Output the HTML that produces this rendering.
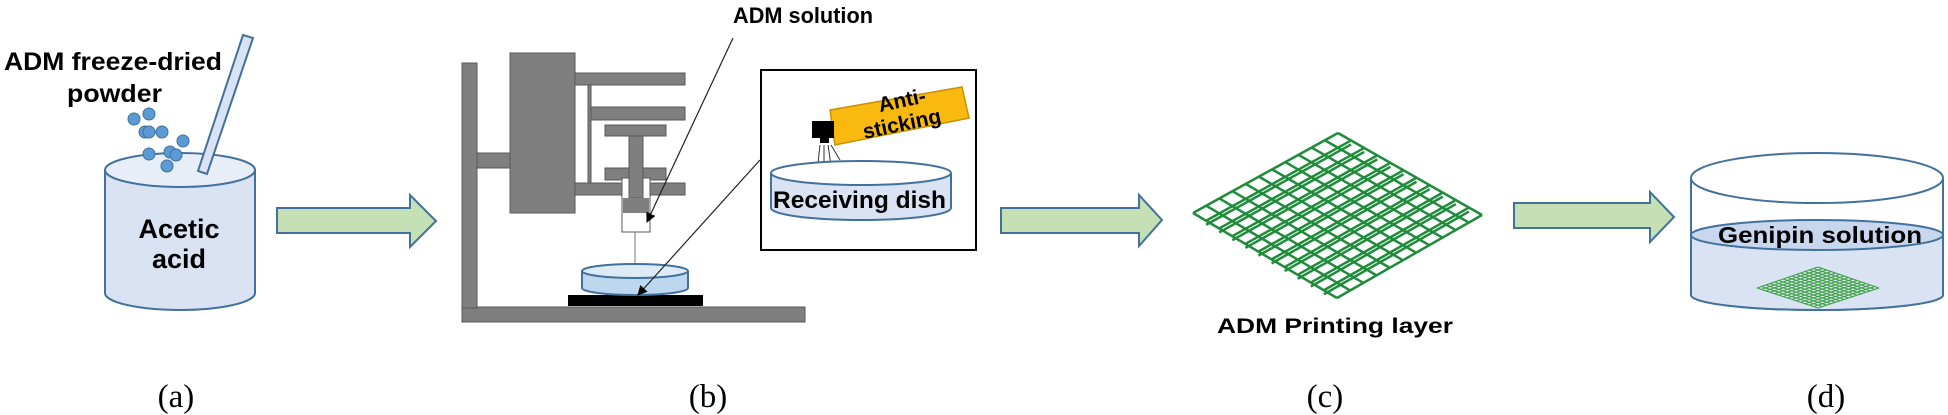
<!DOCTYPE html>
<html><head><meta charset="utf-8"><style>
html,body{margin:0;padding:0;background:#fff;width:1948px;height:415px;overflow:hidden}
svg{display:block}
.b{font-family:"Liberation Sans",sans-serif;font-weight:bold;fill:#000}
.s{font-family:"Liberation Serif",serif;font-size:33px;fill:#000}
</style></head><body>
<svg id="sv" width="1948" height="415" viewBox="0 0 1948 415" xmlns="http://www.w3.org/2000/svg">
<defs>
<marker id="ah" markerWidth="10" markerHeight="10" refX="9" refY="5" orient="auto" markerUnits="userSpaceOnUse"><path d="M0,0 L10,5 L0,10 z" fill="#000"/></marker>
</defs>
<!-- (a) beaker -->
<path d="M105,170 L105,293 A75,17 0 0 0 255,293 L255,170" fill="#dae3f3" stroke="#41719c" stroke-width="2"/>
<ellipse cx="180" cy="170" rx="75" ry="17" fill="#e8eef8" stroke="#41719c" stroke-width="2"/>
<polygon points="243,35 253,38 207,174 198,171" fill="#dae3f3" stroke="#41719c" stroke-width="2"/>
<g fill="#5b9bd5" stroke="#41719c" stroke-width="1">
<circle cx="134" cy="119" r="6"/><circle cx="149" cy="114" r="6"/><circle cx="145" cy="132" r="6"/><circle cx="149" cy="132" r="6"/><circle cx="162" cy="132" r="6"/><circle cx="183" cy="141" r="6"/><circle cx="149" cy="154" r="6"/><circle cx="170" cy="152" r="6"/><circle cx="176" cy="155" r="6"/><circle cx="167" cy="166" r="6"/>
</g>
<text class="b" x="4" y="70" font-size="25" textLength="218" lengthAdjust="spacingAndGlyphs">ADM freeze-dried</text>
<text class="b" x="67" y="102" font-size="25" textLength="95" lengthAdjust="spacingAndGlyphs">powder</text>
<text class="b" x="179" y="238" font-size="27" text-anchor="middle">Acetic</text>
<text class="b" x="179" y="268" font-size="27" text-anchor="middle">acid</text>
<!-- arrows -->
<polygon points="277,208 410,208 410,195 436,221 410,247 410,233 277,233" fill="#c5e0b4" stroke="#41719c" stroke-width="2"/>
<polygon points="1001,208 1139,208 1139,195 1162,220 1139,246 1139,233 1001,233" fill="#c5e0b4" stroke="#41719c" stroke-width="2"/>
<polygon points="1514,203 1650,203 1650,192 1674,217 1650,242 1650,228 1514,228" fill="#c5e0b4" stroke="#41719c" stroke-width="2"/>
<!-- (b) printer -->
<g fill="#7f7f7f" stroke="#595959" stroke-width="1">
<rect x="462" y="307" width="343" height="15"/>
<rect x="462" y="63" width="15" height="245"/>
<rect x="477" y="153" width="33" height="15"/>
<rect x="510" y="53" width="65" height="160"/>
<rect x="575" y="73" width="110" height="12"/>
<rect x="588" y="107" width="97" height="13"/>
<rect x="588" y="85" width="3" height="100"/>
<rect x="575" y="183" width="110" height="12"/>
<rect x="605" y="125" width="61" height="11"/>
<rect x="605" y="168" width="61" height="12"/>
</g>
<rect x="622" y="178" width="28" height="54" fill="#fff" stroke="#595959" stroke-width="1"/>
<rect x="629" y="136" width="14" height="62" fill="#7f7f7f" stroke="#595959"/>
<rect x="623" y="198" width="26" height="15" fill="#7f7f7f"/>
<line x1="635" y1="232" x2="635" y2="266" stroke="#777" stroke-width="1"/>
<rect x="568" y="295" width="135" height="11" fill="#000"/>
<path d="M582,271 L582,288 A53,7 0 0 0 688,288 L688,271" fill="#bdd7ee" stroke="#41719c" stroke-width="2"/>
<ellipse cx="635" cy="271" rx="53" ry="7" fill="#deebf7" stroke="#41719c" stroke-width="2"/>
<text class="b" x="733" y="23" font-size="22" textLength="140" lengthAdjust="spacingAndGlyphs">ADM solution</text>
<line x1="733" y1="38" x2="647" y2="222" stroke="#222" stroke-width="1.2" marker-end="url(#ah)"/>
<line x1="760" y1="160" x2="638" y2="295" stroke="#222" stroke-width="1.2" marker-end="url(#ah)"/>
<!-- inset -->
<rect x="761" y="70" width="215" height="180" fill="#fff" stroke="#000" stroke-width="2"/>
<polygon points="830,110 962,87 969,118 835,145" fill="#f9b90e" stroke="#c98f00" stroke-width="1.5"/>
<g transform="rotate(-12 900 115)">
<text class="b" x="905" y="108" font-size="21" text-anchor="middle">Anti-</text>
<text class="b" x="900" y="131" font-size="21" text-anchor="middle">sticking</text>
</g>
<rect x="812" y="121" width="22" height="17" fill="#000"/>
<rect x="820" y="137" width="9" height="6" fill="#000"/>
<g stroke="#333" stroke-width="1" fill="none">
<path d="M820,145 L817,172"/><path d="M824,145 L824,174"/><path d="M828,145 L832,172"/><path d="M831,145 L840,160"/>
</g>
<path d="M771,173 L771,208 A90,12 0 0 0 951,208 L951,173" fill="#dae3f3" stroke="#41719c" stroke-width="2"/>
<ellipse cx="861" cy="173" rx="90" ry="12" fill="#fff" stroke="#41719c" stroke-width="2"/>
<text class="b" x="773" y="208" font-size="24" textLength="173" lengthAdjust="spacingAndGlyphs">Receiving dish</text>
<!-- (c) grid -->
<g id="grid" stroke="#1e8c3a" stroke-width="2.5" fill="none"></g>
<text class="b" x="1335" y="333" font-size="21" text-anchor="middle" textLength="236" lengthAdjust="spacingAndGlyphs">ADM Printing layer</text>
<!-- (d) -->
<path d="M1691,178 L1691,295 A126,15 0 0 0 1943,295 L1943,178" fill="#fff" stroke="#41719c" stroke-width="2"/>
<path d="M1691,235 L1691,295 A126,15 0 0 0 1943,295 L1943,235 Z" fill="#dae3f3" stroke="none"/>
<path d="M1691,178 L1691,295 A126,15 0 0 0 1943,295 L1943,178" fill="none" stroke="#41719c" stroke-width="2"/>
<ellipse cx="1817" cy="235" rx="126" ry="15" fill="#c9d7ee" stroke="#41719c" stroke-width="2"/>
<ellipse cx="1817" cy="178" rx="126" ry="25" fill="#fff" stroke="#41719c" stroke-width="2"/>
<g id="grid2" stroke="#3aa040" stroke-width="1" fill="none"></g>
<text class="b" x="1820" y="243" font-size="23" text-anchor="middle" textLength="204" lengthAdjust="spacingAndGlyphs">Genipin solution</text>
<!-- labels -->
<text class="s" x="176" y="407" text-anchor="middle">(a)</text>
<text class="s" x="708" y="407" text-anchor="middle">(b)</text>
<text class="s" x="1325" y="407" text-anchor="middle">(c)</text>
<text class="s" x="1826" y="407" text-anchor="middle">(d)</text>
</svg>
<script>
function grid(id,L,T,R,B,n,dbl){
 var g=document.getElementById(id),ns="http://www.w3.org/2000/svg",s="";
 for(var i=0;i<=n;i++){
  var t=i/n;
  // lines parallel to L->T, stepping from L->B
  var ax=L[0]+(B[0]-L[0])*t, ay=L[1]+(B[1]-L[1])*t;
  var bx=T[0]+(R[0]-T[0])*t, by=T[1]+(R[1]-T[1])*t;
  s+='<line x1="'+ax+'" y1="'+ay+'" x2="'+bx+'" y2="'+by+'"/>';
  if(dbl&&i>0&&i<n) s+='<line x1="'+(ax)+'" y1="'+(ay+4)+'" x2="'+bx+'" y2="'+(by+4)+'"/>';
  var cx=L[0]+(T[0]-L[0])*t, cy=L[1]+(T[1]-L[1])*t;
  var dx=B[0]+(R[0]-B[0])*t, dy=B[1]+(R[1]-B[1])*t;
  s+='<line x1="'+cx+'" y1="'+cy+'" x2="'+dx+'" y2="'+dy+'"/>';
 }
 g.innerHTML=s;
}
grid("grid",[1193,213],[1338,133],[1482,215],[1337,298],11,true);
grid("grid2",[1757,288],[1818,267],[1879,288],[1818,308],14,false);
</script>
</body></html>
